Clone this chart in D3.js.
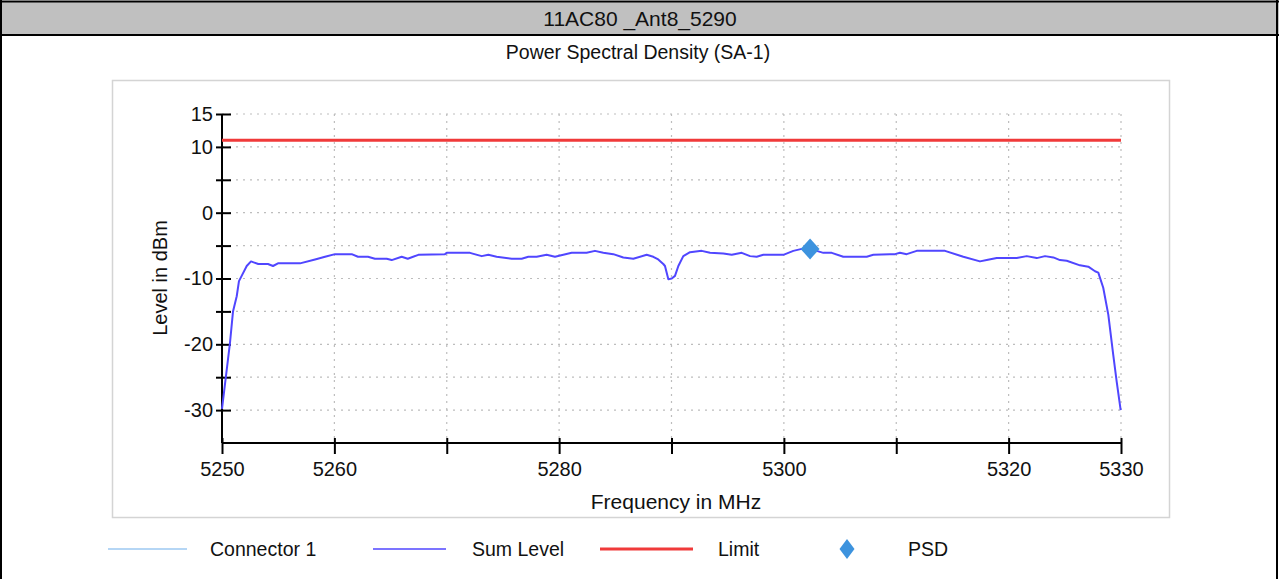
<!DOCTYPE html>
<html><head><meta charset="utf-8">
<script src="https://cdn.jsdelivr.net/npm/d3@7"></script>
<style>
html,body{margin:0;padding:0;background:#fff;}
svg{display:block;font-family:"Liberation Sans",Arial,sans-serif;}
</style></head>
<body><svg id="c" width="1279" height="579"></svg>
<script>
const headerTitle = "11AC80 _Ant8_5290";
const chartTitle = "Power Spectral Density (SA-1)";
const xLabel = "Frequency in MHz";
const yLabel = "Level in dBm";
const xTicks = [5250,5260,5270,5280,5290,5300,5310,5320,5330];
const xTickLabels = [5250,5260,5280,5300,5320,5330];
const yTicks = [15,10,5,0,-5,-10,-15,-20,-25,-30];
const yTickLabels = [15,10,0,-10,-20,-30];
const limitValue = 11.0;
const psdMarker = {f:5302.33, v:-5.5};
const sumFreq = [5250.0,5250.71,5250.98,5251.31,5251.51,5251.75,5252.2,5252.58,5253.23,5254.09,5254.54,5254.98,5256.94,5258.28,5259.17,5260.06,5261.54,5262.1,5262.99,5263.61,5264.66,5265.1,5265.99,5266.53,5267.47,5269.84,5270.0,5272.07,5273.11,5273.7,5274.44,5275.78,5276.67,5277.26,5278.0,5278.89,5279.63,5280.37,5281.12,5282.45,5283.19,5283.93,5284.82,5285.71,5286.6,5287.79,5288.38,5288.82,5289.27,5289.42,5289.72,5290.02,5290.31,5290.61,5291.05,5291.65,5292.69,5293.43,5294.61,5295.36,5296.25,5296.99,5297.58,5298.17,5299.95,5300.84,5301.59,5302.33,5303.51,5304.26,5305.29,5307.37,5307.96,5309.44,5309.89,5310.33,5310.93,5311.82,5314.34,5315.97,5317.45,5318.05,5318.94,5320.72,5321.61,5322.5,5323.24,5323.98,5324.57,5325.17,5326.35,5327.09,5327.69,5327.98,5328.42,5328.87,5329.31,5329.61,5329.97];
const sumLevel = [-29.8,-19.8,-15.0,-12.7,-10.4,-9.6,-8.1,-7.4,-7.8,-7.8,-8.1,-7.7,-7.7,-7.1,-6.7,-6.3,-6.3,-6.7,-6.7,-7.0,-7.0,-7.2,-6.7,-7.0,-6.4,-6.3,-6.1,-6.1,-6.6,-6.4,-6.7,-7.0,-7.0,-6.7,-6.7,-6.4,-6.7,-6.4,-6.1,-6.1,-5.8,-6.1,-6.3,-6.8,-7.0,-6.4,-6.7,-7.1,-7.8,-8.1,-10.1,-10.0,-9.6,-8.1,-6.6,-6.0,-5.8,-6.1,-6.2,-6.4,-6.1,-6.6,-6.7,-6.4,-6.4,-5.8,-5.5,-5.5,-6.1,-6.1,-6.7,-6.7,-6.4,-6.3,-6.3,-6.1,-6.3,-5.8,-5.8,-6.7,-7.4,-7.2,-6.9,-6.9,-6.6,-6.9,-6.6,-6.8,-7.2,-7.3,-8.0,-8.2,-8.9,-9.1,-11.4,-15.5,-21.6,-25.6,-30.0];
const legendItems = [
  {name:"Connector 1", type:"line", color:"#9cc8f2", width:1.5},
  {name:"Sum Level", type:"line", color:"#5046ff", width:1.5},
  {name:"Limit", type:"line", color:"#f03a3a", width:3},
  {name:"PSD", type:"diamond", color:"#3d93de"}
];

const svg = d3.select("#c");
const W = 1279, H = 579;
const diamond = (w,h)=>`M0,${-h/2}L${w/2},0L0,${h/2}L${-w/2},0Z`;

// header band
svg.append("rect").attr("x",0).attr("y",1).attr("width",W).attr("height",34).attr("fill","#c0c0c0");
svg.append("line").attr("x1",0).attr("x2",W).attr("y1",1.5).attr("y2",1.5).attr("stroke","#000").attr("stroke-width",2);
svg.append("line").attr("x1",0).attr("x2",W).attr("y1",35).attr("y2",35).attr("stroke","#000").attr("stroke-width",2);
svg.append("line").attr("x1",1).attr("x2",1).attr("y1",0).attr("y2",H).attr("stroke","#000").attr("stroke-width",2);
svg.append("line").attr("x1",W-2).attr("x2",W-2).attr("y1",0).attr("y2",H).attr("stroke","#000").attr("stroke-width",2);
svg.append("text").attr("x",640).attr("y",26).attr("text-anchor","middle").attr("font-size",21).attr("fill","#111").text(headerTitle);
svg.append("text").attr("x",638).attr("y",59).attr("text-anchor","middle").attr("font-size",19.5).attr("fill","#111").text(chartTitle);

// chart frame
svg.append("rect").attr("x",112.5).attr("y",80.5).attr("width",1057).attr("height",437).attr("fill","none").attr("stroke","#d4d4d4").attr("stroke-width",1.5);

const x = d3.scaleLinear().domain([5250,5330]).range([222,1121]);
const y = d3.scaleLinear().domain([-35,15]).range([443,114]);

// grid
const grid = svg.append("g");
yTicks.forEach(v=>{
  grid.append("line").attr("x1",x(5250)).attr("x2",x(5330)).attr("y1",y(v)).attr("y2",y(v))
    .attr("stroke","#bdbdbd").attr("stroke-width",1.2).attr("stroke-dasharray","2,5");
});
xTicks.slice(1).forEach(v=>{
  grid.append("line").attr("x1",x(v)).attr("x2",x(v)).attr("y1",y(15)).attr("y2",y(-35))
    .attr("stroke","#bdbdbd").attr("stroke-width",1.2).attr("stroke-dasharray","2,5");
});

// axes
const yAxis = svg.append("g").attr("transform","translate(222,0)")
  .call(d3.axisLeft(y).tickValues(yTicks).tickSize(6).tickPadding(6)
    .tickFormat(d=>yTickLabels.includes(d)?String(d):""));
yAxis.select(".domain").attr("d",`M0,${y(15)}V${y(-35)}`).attr("stroke","#000").attr("stroke-width",2);
yAxis.selectAll(".tick line").attr("x1",9).attr("x2",-6).attr("stroke","#000").attr("stroke-width",2);
yAxis.selectAll(".tick text").attr("font-size",20).attr("fill","#111").attr("font-family","Liberation Sans, Arial, sans-serif").attr("x",-9);

const xAxis = svg.append("g").attr("transform",`translate(0,${y(-35)})`)
  .call(d3.axisBottom(x).tickValues(xTicks).tickSize(11).tickPadding(8)
    .tickFormat(d=>xTickLabels.includes(d)?String(d):""));
xAxis.select(".domain").attr("d",`M${x(5250)},0H${x(5330)}`).attr("stroke","#000").attr("stroke-width",2);
xAxis.selectAll(".tick line").attr("y1",-5).attr("y2",11).attr("stroke","#000").attr("stroke-width",2);
xAxis.selectAll(".tick text").attr("font-size",20).attr("fill","#111").attr("font-family","Liberation Sans, Arial, sans-serif");

svg.append("text").attr("x",676).attr("y",509).attr("text-anchor","middle").attr("font-size",21).attr("fill","#111").text(xLabel);
svg.append("text").attr("transform","translate(167,278) rotate(-90)").attr("text-anchor","middle").attr("font-size",20).attr("fill","#111").text(yLabel);

// limit
svg.append("line").attr("x1",x(5250)).attr("x2",x(5330)).attr("y1",y(limitValue)).attr("y2",y(limitValue))
  .attr("stroke",legendItems[2].color).attr("stroke-width",3);

// sum level curve
const pts = sumFreq.map((f,i)=>[f,sumLevel[i]]);
svg.append("path").datum(pts).attr("fill","none").attr("stroke",legendItems[1].color).attr("stroke-width",2)
  .attr("stroke-linejoin","round")
  .attr("d",d3.line().x(d=>x(d[0])).y(d=>y(d[1])));

// PSD marker
svg.append("path").attr("d",diamond(19,21))
  .attr("transform",`translate(${x(psdMarker.f)},${y(psdMarker.v)})`).attr("fill",legendItems[3].color);

// legend
const legPos = [{lx:108,lw:79,tx:210},{lx:373,lw:73,tx:472},{lx:600,lw:93,tx:718},{lx:847,lw:0,tx:908}];
const ly = 549;
legendItems.forEach((it,i)=>{
  const p = legPos[i];
  if(it.type==="line"){
    svg.append("line").attr("x1",p.lx).attr("x2",p.lx+p.lw).attr("y1",ly).attr("y2",ly)
      .attr("stroke",it.color).attr("stroke-width",it.width);
  } else {
    svg.append("path").attr("d",diamond(15,20))
      .attr("transform",`translate(${p.lx},${ly})`).attr("fill",it.color);
  }
  svg.append("text").attr("x",p.tx).attr("y",ly+7).attr("font-size",19.5).attr("fill","#111").text(it.name);
});
</script></body></html>
